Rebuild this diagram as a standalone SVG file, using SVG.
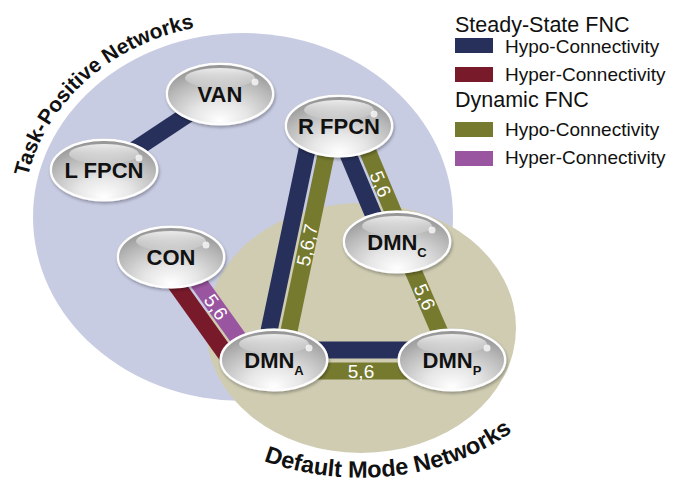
<svg xmlns="http://www.w3.org/2000/svg" xmlns:xlink="http://www.w3.org/1999/xlink" width="673" height="485" viewBox="0 0 673 485">
  <defs>
    <radialGradient id="ng" cx="50%" cy="75%" r="72%" fx="50%" fy="95%">
      <stop offset="0" stop-color="#ffffff"/>
      <stop offset="0.35" stop-color="#e6e6e6"/>
      <stop offset="0.75" stop-color="#b8b8b8"/>
      <stop offset="1" stop-color="#959595"/>
    </radialGradient>
    <linearGradient id="hl" x1="0" y1="0" x2="0" y2="1">
      <stop offset="0" stop-color="#ffffff" stop-opacity="0.8"/>
      <stop offset="1" stop-color="#ffffff" stop-opacity="0.05"/>
    </linearGradient>
    <filter id="sh" x="-20%" y="-30%" width="140%" height="170%">
      <feDropShadow dx="1" dy="2" stdDeviation="1.8" flood-color="#000" flood-opacity="0.28"/>
    </filter>
    <g id="nodeShape">
      <ellipse rx="54.5" ry="31.5" fill="#a8a8a8"/>
      <ellipse rx="53.2" ry="30.2" fill="url(#ng)" stroke="#fdfdfd" stroke-width="2.4"/>
      <ellipse cx="0" cy="-16" rx="35" ry="10" fill="url(#hl)"/>
      <circle cx="35" cy="-12" r="3.5" fill="#fff" opacity="0.75"/>
    </g>
    <path id="tpArc" d="M 27.8 176.7 A 220 194 0 0 1 318.2 34.7"/>
    <path id="dmArc" d="M 263.7 460.8 A 210 149 0 0 0 551.3 391"/>
  </defs>
  <style>
    .band{fill:none;stroke-width:17;stroke-linecap:butt}
    .navy{stroke:#27305b}
    .maroon{stroke:#791a2b}
    .olive{stroke:#767a2f}
    .purple{stroke:#9a55a0}
    .blabel{font-family:"Liberation Sans",Arial,sans-serif;font-size:19px;fill:#ffffff;text-anchor:middle}
    .nlabel{font-family:"Liberation Sans",Arial,sans-serif;font-weight:bold;font-size:22px;fill:#111;text-anchor:middle}
    .sub{font-size:13px}
    .arc{font-family:"Liberation Sans",Arial,sans-serif;font-weight:bold;fill:#111}
    .lgh{font-family:"Liberation Sans",Arial,sans-serif;font-size:21.5px;fill:#111}
    .lgt{font-family:"Liberation Sans",Arial,sans-serif;font-size:19px;fill:#111}
  </style>

  <g id="background">
    <ellipse cx="243" cy="217" rx="210" ry="184" fill="#c8cce3"/>
    <ellipse cx="361" cy="328" rx="155" ry="125" fill="#cfccb2"/>
    <text class="arc" font-size="21"><textPath href="#tpArc" startOffset="0">Task-</textPath></text>
    <text class="arc" font-size="21"><textPath href="#tpArc" startOffset="54.85">Positive</textPath></text>
    <text class="arc" font-size="21"><textPath href="#tpArc" startOffset="141.2">Networks</textPath></text>
    <text class="arc" font-size="23.5"><textPath href="#dmArc">Default Mode Networks</textPath></text>
  </g>

  <g id="connectors">
    <line class="band navy" x1="104" y1="170" x2="220" y2="93"/>
    <line class="band navy" x1="311.2" y1="130" x2="265" y2="350"/>
    <line class="band olive" x1="331.2" y1="130" x2="285" y2="350"/>
    <line class="band navy" x1="335.7" y1="125" x2="384" y2="240"/>
    <line class="band olive" x1="356.7" y1="125" x2="405" y2="240"/>
    <line class="band olive" x1="398" y1="236" x2="454" y2="365"/>
    <line class="band navy" x1="274" y1="350" x2="452" y2="350"/>
    <line class="band olive" x1="274" y1="371" x2="452" y2="371"/>
    <line class="band maroon" x1="160" y1="262" x2="240" y2="374"/>
    <line class="band purple" x1="175.9" y1="250.7" x2="255.9" y2="362.7"/>
    <text class="blabel" transform="translate(307 245) rotate(-78.2)" dy="0.35em">5,6,7</text>
    <text class="blabel" transform="translate(380.5 184) rotate(67.2)" dy="0.35em">5,6</text>
    <text class="blabel" transform="translate(424.7 297) rotate(66.6)" dy="0.35em">5,6</text>
    <text class="blabel" transform="translate(361 371)" dy="0.35em">5,6</text>
    <text class="blabel" transform="translate(216 307) rotate(54.5)" dy="0.35em">5,6</text>
  </g>

  <g id="node-VAN">
    <use href="#nodeShape" x="220" y="94" filter="url(#sh)"/>
    <text class="nlabel" x="220" y="102">VAN</text>
  </g>
  <g id="node-LFPCN">
    <use href="#nodeShape" x="104" y="170" filter="url(#sh)"/>
    <text class="nlabel" x="104" y="178">L FPCN</text>
  </g>
  <g id="node-RFPCN">
    <use href="#nodeShape" x="339" y="126" filter="url(#sh)"/>
    <text class="nlabel" x="339" y="134">R FPCN</text>
  </g>
  <g id="node-CON">
    <use href="#nodeShape" x="171" y="257" filter="url(#sh)"/>
    <text class="nlabel" x="171" y="265">CON</text>
  </g>
  <g id="node-DMNC">
    <use href="#nodeShape" x="397" y="242" filter="url(#sh)"/>
    <text class="nlabel" x="397" y="250">DMN<tspan class="sub" dy="7">C</tspan></text>
  </g>
  <g id="node-DMNA">
    <use href="#nodeShape" x="274" y="360" filter="url(#sh)"/>
    <text class="nlabel" x="274" y="368">DMN<tspan class="sub" dy="7">A</tspan></text>
  </g>
  <g id="node-DMNP">
    <use href="#nodeShape" x="452" y="360" filter="url(#sh)"/>
    <text class="nlabel" x="452" y="368">DMN<tspan class="sub" dy="7">P</tspan></text>
  </g>

  <g id="legend">
    <text class="lgh" x="455" y="32">Steady-State FNC</text>
    <rect x="455" y="38" width="38" height="15" fill="#27305b"/>
    <text class="lgt" x="505" y="53">Hypo-Connectivity</text>
    <rect x="455" y="67" width="38" height="15" fill="#791a2b"/>
    <text class="lgt" x="505" y="81">Hyper-Connectivity</text>
    <text class="lgh" x="455" y="107">Dynamic FNC</text>
    <rect x="455" y="122" width="38" height="15" fill="#767a2f"/>
    <text class="lgt" x="505" y="136">Hypo-Connectivity</text>
    <rect x="455" y="151" width="38" height="15" fill="#9a55a0"/>
    <text class="lgt" x="505" y="164">Hyper-Connectivity</text>
  </g>
</svg>
